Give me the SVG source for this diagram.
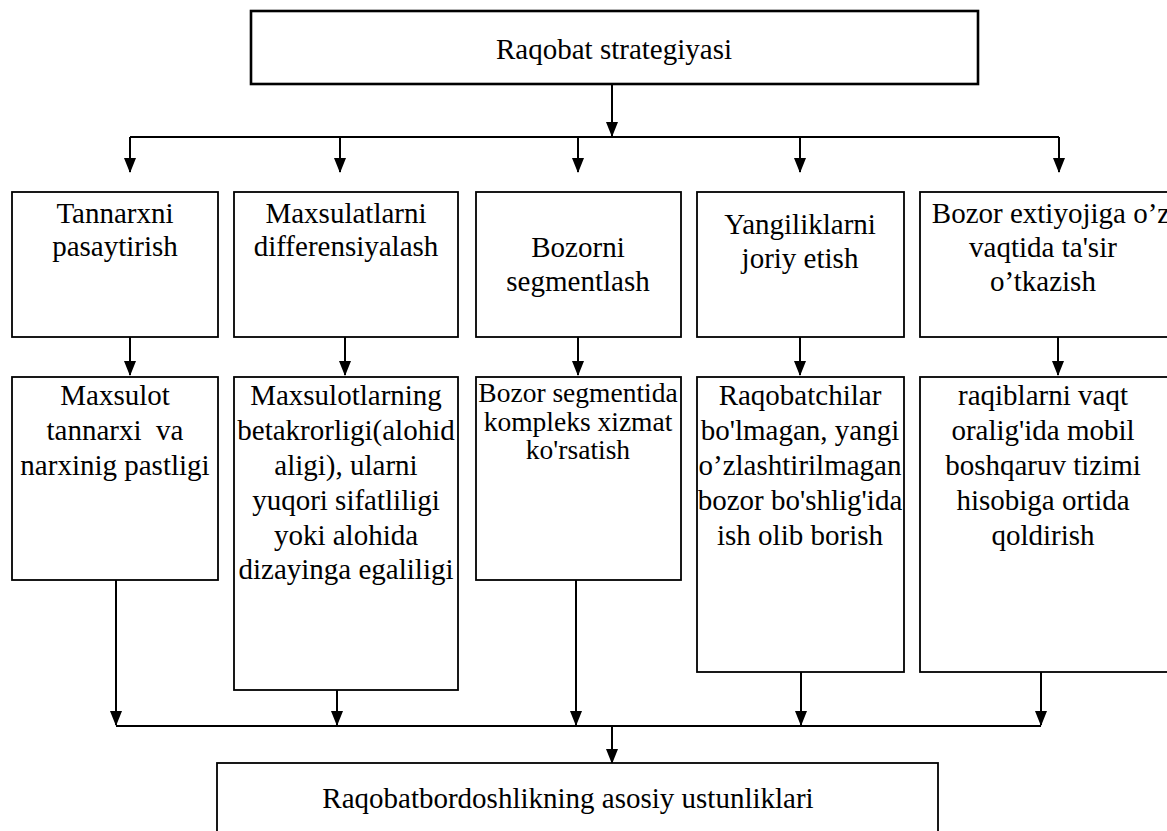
<svg xmlns="http://www.w3.org/2000/svg" width="1167" height="831" viewBox="0 0 1167 831" font-family="'Liberation Serif', 'Times New Roman', 'DejaVu Serif', serif">
  <style>
    .box { fill: #ffffff; stroke: #000000; stroke-width: 1.8; }
    .top { stroke-width: 2.6; }
    text { font-family: 'Liberation Serif', 'Times New Roman', 'DejaVu Serif', serif; font-size: 29px; fill: #000000; text-anchor: middle; }
    .sm { font-size: 27.5px; }
    .wire { fill: none; stroke: #000000; stroke-width: 2; }
  </style>
  <defs>
    <marker id="ah" markerWidth="15" markerHeight="12" refX="14" refY="6" orient="auto" markerUnits="userSpaceOnUse">
      <path d="M0,0 L15,6 L0,12 Z" fill="#000000"/>
    </marker>
  </defs>

  <rect width="1167" height="831" fill="#ffffff"/>

  <!-- connectors -->
  <g id="connectors" class="wire">
    <line x1="612" y1="84" x2="612" y2="136" marker-end="url(#ah)"/>
    <path d="M130,137 H1059"/>
    <line x1="130" y1="137" x2="130" y2="172" marker-end="url(#ah)"/>
    <line x1="340" y1="137" x2="340" y2="172" marker-end="url(#ah)"/>
    <line x1="578" y1="137" x2="578" y2="172" marker-end="url(#ah)"/>
    <line x1="800" y1="137" x2="800" y2="172" marker-end="url(#ah)"/>
    <line x1="1059" y1="137" x2="1059" y2="172" marker-end="url(#ah)"/>

    <line x1="130" y1="337" x2="130" y2="375" marker-end="url(#ah)"/>
    <line x1="345" y1="337" x2="345" y2="375" marker-end="url(#ah)"/>
    <line x1="578" y1="337" x2="578" y2="375" marker-end="url(#ah)"/>
    <line x1="800" y1="337" x2="800" y2="375" marker-end="url(#ah)"/>
    <line x1="1058" y1="337" x2="1058" y2="375" marker-end="url(#ah)"/>

    <line x1="116" y1="580" x2="116" y2="725" marker-end="url(#ah)"/>
    <line x1="337" y1="690" x2="337" y2="725" marker-end="url(#ah)"/>
    <line x1="576" y1="580" x2="576" y2="725" marker-end="url(#ah)"/>
    <line x1="801" y1="672" x2="801" y2="725" marker-end="url(#ah)"/>
    <line x1="1041" y1="672" x2="1041" y2="725" marker-end="url(#ah)"/>
    <path d="M116,726 H1041"/>
    <line x1="612" y1="726" x2="612" y2="763" marker-end="url(#ah)"/>
  </g>

  <!-- top level -->
  <g id="strategy">
    <rect class="box top" x="251" y="11" width="727" height="73"/>
    <text x="614" y="59">Raqobat strategiyasi</text>
  </g>

  <!-- strategies -->
  <g id="cost">
    <rect class="box" x="12" y="192" width="206" height="145"/>
    <text x="115" y="223">Tannarxni</text>
    <text x="115" y="256">pasaytirish</text>
  </g>
  <g id="differentiation">
    <rect class="box" x="234" y="192" width="224" height="145"/>
    <text x="346" y="223">Maxsulatlarni</text>
    <text x="346" y="256">differensiyalash</text>
  </g>
  <g id="segmentation">
    <rect class="box" x="476" y="192" width="205" height="145"/>
    <text x="578" y="257">Bozorni</text>
    <text x="578" y="291">segmentlash</text>
  </g>
  <g id="innovation">
    <rect class="box" x="697" y="192" width="207" height="145"/>
    <text x="800" y="234">Yangiliklarni</text>
    <text x="800" y="268">joriy etish</text>
  </g>
  <g id="response">
    <rect class="box" x="920" y="192" width="250" height="145"/>
    <text x="1051" y="223">Bozor extiyojiga o’z</text>
    <text x="1043" y="257">vaqtida ta'sir</text>
    <text x="1043" y="291">o’tkazish</text>
  </g>

  <!-- advantages -->
  <g id="cost-result">
    <rect class="box" x="12" y="377" width="206" height="203"/>
    <text x="115" y="405">Maxsulot</text>
    <text x="115" y="440" xml:space="preserve">tannarxi  va</text>
    <text x="115" y="475">narxinig pastligi</text>
  </g>
  <g id="differentiation-result">
    <rect class="box" x="234" y="377" width="224" height="313"/>
    <text x="346" y="405">Maxsulotlarning</text>
    <text x="346" y="440">betakrorligi(alohid</text>
    <text x="346" y="475">aligi), ularni</text>
    <text x="346" y="510">yuqori sifatliligi</text>
    <text x="346" y="545">yoki alohida</text>
    <text x="346" y="579">dizayinga egaliligi</text>
  </g>
  <g id="segmentation-result">
    <rect class="box" x="476" y="377" width="205" height="203"/>
    <text class="sm" x="578" y="402">Bozor segmentida</text>
    <text class="sm" x="578" y="431">kompleks xizmat</text>
    <text class="sm" x="578" y="459">ko'rsatish</text>
  </g>
  <g id="innovation-result">
    <rect class="box" x="697" y="377" width="207" height="295"/>
    <text x="800" y="405">Raqobatchilar</text>
    <text x="800" y="440">bo'lmagan, yangi</text>
    <text x="800" y="475">o’zlashtirilmagan</text>
    <text x="800" y="510">bozor bo'shlig'ida</text>
    <text x="800" y="545">ish olib borish</text>
  </g>
  <g id="response-result">
    <rect class="box" x="920" y="377" width="250" height="295"/>
    <text x="1043" y="405">raqiblarni vaqt</text>
    <text x="1043" y="440">oralig'ida mobil</text>
    <text x="1043" y="475">boshqaruv tizimi</text>
    <text x="1043" y="510">hisobiga ortida</text>
    <text x="1043" y="545">qoldirish</text>
  </g>

  <!-- summary -->
  <g id="advantages">
    <rect class="box" x="217" y="763" width="721" height="80"/>
    <text x="568" y="808">Raqobatbordoshlikning asosiy ustunliklari</text>
  </g>
</svg>
